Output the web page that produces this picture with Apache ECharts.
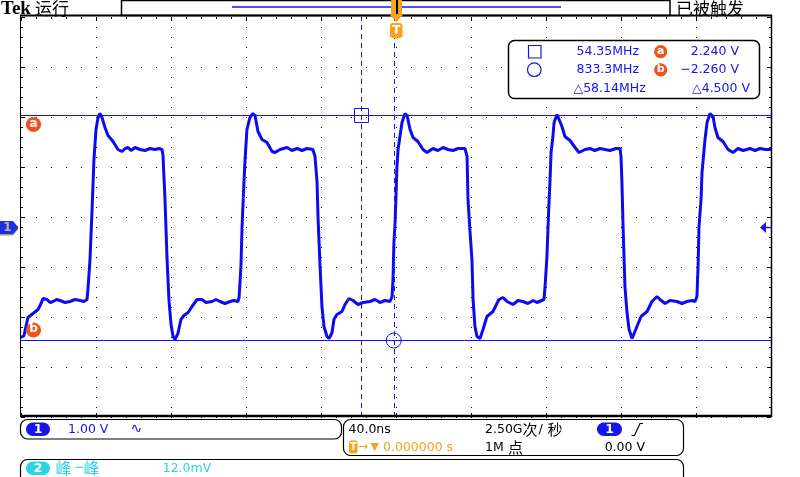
<!DOCTYPE html>
<html><head><meta charset="utf-8">
<script src="https://cdn.jsdelivr.net/npm/echarts@6/dist/echarts.min.js"></script>
<style>html,body{margin:0;padding:0;background:#fff}#c{width:800px;height:477px}</style>
</head><body><div id="c"></div>
<script>
// ---- Channel 1 trace (time in ns relative to trigger, volts) ----
const timeNs = [
-200.0,-198.4,-196.3,-193.6,-190.9,-189.3,-188.3,-186.1,-184.5,-182.9,-181.0,-179.2,-176.5,-173.9,-171.2,-168.5,-166.4,-164.8,
-164.3,-163.2,-162.1,-161.1,-160.0,-158.9,-157.9,-156.8,-155.2,-153.6,-150.9,-148.3,-146.1,-144.5,-142.9,-141.3,-139.2,-136.5,
-133.9,-131.2,-128.5,-126.4,-124.8,-124.3,-123.2,-122.1,-121.1,-120.0,-118.9,-117.9,-116.3,-114.7,-113.1,-110.9,-108.8,-106.1,
-103.5,-101.3,-98.1,-96.0,-93.9,-91.2,-88.5,-86.4,-84.3,-83.7,-82.7,-82.1,-81.1,-80.5,-79.5,-77.9,-76.3,-75.2,-73.6,-71.5,
-68.8,-66.1,-64.5,-61.9,-58.1,-55.5,-52.8,-50.1,-47.5,-44.3,-43.2,-42.1,-41.6,-40.5,-39.5,-38.4,-36.8,-35.7,-34.1,-33.1,
-31.5,-28.8,-27.2,-25.1,-22.9,-20.3,-17.6,-13.9,-11.2,-8.5,-5.9,-3.2,-2.1,-1.6,-1.1,-0.5,0.0,0.5,1.1,2.1,3.2,4.8,5.9,7.5,
9.1,11.7,14.4,16.5,19.7,22.4,25.1,27.7,30.4,33.1,36.8,37.9,38.4,39.5,40.5,41.1,42.1,43.2,44.8,46.4,48.5,51.7,54.9,57.1,
59.2,62.4,65.1,67.7,70.4,73.1,75.2,78.9,79.5,80.5,81.1,81.6,82.1,82.7,83.7,84.3,85.9,86.9,88.5,90.1,92.8,95.5,97.6,100.8,
103.5,106.1,108.8,111.5,114.1,117.3,119.5,120.0,120.5,121.1,121.6,122.1,123.2,124.3,125.9,126.9,128.5,130.7,133.9,136.5,
139.2,140.8,143.5,146.1,149.9,152.5,155.2,157.9,159.5,160.5,161.1,161.6,162.7,163.2,164.8,165.9,167.5,169.1,170.1,171.7,
174.4,177.1,179.7,182.4,185.1,188.8,191.5,194.1,197.3,200.0
];
const ch1Volts = [
-2.20,-2.16,-1.80,-1.72,-1.64,-1.52,-1.42,-1.44,-1.50,-1.48,-1.44,-1.46,-1.50,-1.48,-1.44,-1.46,-1.48,-1.44,
-1.24,-0.64,0.36,1.36,1.96,2.20,2.28,2.20,2.00,1.84,1.72,1.56,1.52,1.58,1.60,1.54,1.60,1.56,
1.54,1.58,1.56,1.58,1.56,1.46,0.56,-0.64,-1.44,-1.94,-2.18,-2.24,-2.12,-1.84,-1.76,-1.70,-1.58,-1.44,
-1.44,-1.50,-1.48,-1.44,-1.48,-1.52,-1.48,-1.46,-1.48,-1.40,-0.78,0.02,0.90,1.36,1.96,2.20,2.28,2.24,1.92,1.76,
1.70,1.52,1.50,1.56,1.60,1.54,1.58,1.54,1.58,1.56,1.42,0.90,0.22,-0.78,-1.58,-1.98,-2.18,-2.22,-2.10,-1.84,
-1.74,-1.68,-1.54,-1.42,-1.46,-1.54,-1.50,-1.48,-1.44,-1.50,-1.46,-1.48,-1.38,-1.04,-0.30,0.10,0.62,1.22,1.56,1.82,2.10,2.28,2.24,1.96,
1.80,1.72,1.56,1.50,1.58,1.54,1.60,1.56,1.54,1.58,1.58,1.42,0.56,-0.10,-0.64,-1.44,-1.98,-2.18,-2.22,-2.04,-1.78,-1.68,-1.44,-1.40,
-1.48,-1.54,-1.46,-1.48,-1.52,-1.46,-1.50,-1.44,-1.18,-0.58,0.02,0.50,0.90,1.50,1.82,2.10,2.26,2.26,2.02,1.82,1.74,1.60,1.50,1.56,
1.58,1.54,1.58,1.56,1.54,1.58,1.58,1.42,0.90,0.02,-0.58,-1.18,-1.70,-2.04,-2.22,-2.18,-1.98,-1.78,-1.68,-1.48,
-1.38,-1.44,-1.52,-1.46,-1.48,-1.52,-1.48,-1.46,-1.48,-1.38,-0.78,0.02,0.56,1.10,1.76,2.10,2.28,2.22,2.00,1.80,
1.72,1.56,1.50,1.58,1.54,1.58,1.54,1.58,1.56,1.56
];
// ---- Cursors ----
const cursorVolts = [2.24, -2.26];
const cursorTimeNs = [-18.4, -1.2];
const readoutFreq = ['54.35MHz', '833.3MHz', '△58.14MHz'];
const readoutVolt = ['2.240 V', '−2.260 V', '△4.500 V'];
// ---- Status texts ----
const topLeftText = ['Tek', '运行'];
const topRightText = '已被触发';
const ch1Scale = '1.00 V';
const timebase = '40.0ns';
const triggerPos = '0.000000 s';
const sampleRate = ['2.50G', '次', '/', '秒'];
const recordLen = ['1M', '点'];
const trigLevel = '0.00 V';
const measLabel = ['峰', '−', '峰'];
const measValue = '12.0mV';

const BLUE = '#1414ee', TRACE = '#0b0bf2', OR = '#f0521c', AMB = '#f5a31a', CY = '#2dd3e3';
const LAT = '"DejaVu Sans", "Noto Sans CJK SC", sans-serif';
const CJK = '"Noto Sans CJK SC", sans-serif';

function T(x, y, text, font, fill, align) {
  return {type: 'text', z: 110, silent: true, style: {x, y, text, font, fill,
    align: align || 'left', textAlign: align || 'left', verticalAlign: 'middle', textVerticalAlign: 'middle'}};
}
function R(x, y, w, h, r, fill, stroke, lw) {
  return {type: 'rect', z: 99, silent: true, shape: {x, y, width: w, height: h, r: r || 0},
    style: {fill: fill || 'none', stroke: stroke || 'none', lineWidth: lw || 1}};
}
function L(x1, y1, x2, y2, stroke, lw) {
  return {type: 'line', z: 99, silent: true, shape: {x1, y1, x2, y2}, style: {stroke, lineWidth: lw || 1}};
}
function C(cx, cy, r, fill, stroke, lw) {
  return {type: 'circle', z: 99, silent: true, shape: {cx, cy, r}, style: {fill: fill || 'none', stroke: stroke || 'none', lineWidth: lw || 1}};
}

const graphic = [
  T(1, 9, topLeftText[0], 'bold 19px "Liberation Serif", serif', '#000'),
  T(35, 9, topLeftText[1], '17px ' + CJK, '#000'),
  T(676, 9, topRightText, '17px ' + CJK, '#000'),
  R(121.5, 0.5, 548.5, 15, 0, '#fff', '#000', 1.5),
  L(232, 7, 561, 7, BLUE, 1.5),
  // frame
  L(20, 15.5, 772, 15.5, '#000', 2),
  L(20, 416, 772, 416, '#000', 2.5),
  L(20.5, 15, 20.5, 417, '#000', 1),
  L(771.5, 15, 771.5, 417, '#000', 1.5),
  // trigger position marker
  {type: 'polygon', z: 101, silent: true, shape: {points: [[391, 0], [402, 0], [402, 15], [403, 15], [396.5, 22], [390, 15], [391, 15]]}, style: {fill: AMB}},
  {type: 'line', z: 102, silent: true, shape: {x1: 397, y1: 0, x2: 397, y2: 14}, style: {stroke: '#000', lineWidth: 2}},
  {type: 'rect', z: 101, silent: true, shape: {x: 390, y: 23, width: 12.5, height: 15, r: 3}, style: {fill: AMB}},
  T(396.3, 30.8, 'T', 'bold 12px ' + LAT, '#fff', 'center'),
  // readout box
  R(508.5, 40.5, 251, 58, 6, '#fff', '#000', 1.5),
  {type: 'rect', z: 100, silent: true, shape: {x: 528.5, y: 45.5, width: 12.5, height: 12.5}, style: {fill: 'none', stroke: BLUE, lineWidth: 1.2}},
  {type: 'circle', z: 100, silent: true, shape: {cx: 534.3, cy: 69.7, r: 6.8}, style: {fill: 'none', stroke: BLUE, lineWidth: 1.2}},
  T(639, 52, readoutFreq[0], '12.5px ' + LAT, BLUE, 'right'),
  T(639, 70, readoutFreq[1], '12.5px ' + LAT, BLUE, 'right'),
  T(645.7, 88.5, readoutFreq[2], '12.5px ' + LAT, BLUE, 'right'),
  {type: 'circle', z: 100, silent: true, shape: {cx: 660.7, cy: 51.7, r: 6.6}, style: {fill: OR}},
  T(660.7, 51.2, 'a', 'bold 11px ' + LAT, '#fff', 'center'),
  {type: 'circle', z: 100, silent: true, shape: {cx: 660.7, cy: 69.8, r: 6.6}, style: {fill: OR}},
  T(660.7, 69.3, 'b', 'bold 11px ' + LAT, '#fff', 'center'),
  T(739, 52, readoutVolt[0], '12.5px ' + LAT, BLUE, 'right'),
  T(739, 70, readoutVolt[1], '12.5px ' + LAT, BLUE, 'right'),
  T(750, 88.5, readoutVolt[2], '12.5px ' + LAT, BLUE, 'right'),
  // cursor labels in plot
  C(33.5, 124.5, 7.6, OR), T(33.5, 123.8, 'a', 'bold 12px ' + LAT, '#fff', 'center'),
  C(33.5, 330, 7.6, OR), T(33.5, 329.3, 'b', 'bold 12px ' + LAT, '#fff', 'center'),
  // channel ground markers
  {type: 'polygon', z: 100, silent: true, shape: {points: [[0, 222.5], [13, 222.5], [18.5, 229], [13, 235.5], [0, 235.5]]}, style: {fill: '#9a9a9a'}},
  {type: 'polygon', z: 101, silent: true, shape: {points: [[0, 221], [13, 221], [18.5, 227.5], [13, 234], [0, 234]]}, style: {fill: '#1f2fe0'}},
  T(7.5, 228, '1', 'bold 12px ' + LAT, '#b8b8a8', 'center'),
  {type: 'polygon', z: 100, silent: true, shape: {points: [[760, 227.5], [766, 222], [766, 233]]}, style: {fill: BLUE}},
  L(765, 227.5, 771, 227.5, BLUE, 1.5),
  // bottom status box 1
  R(20.5, 419.5, 321, 19.5, 7, 'none', '#000', 1.2),
  {type: 'rect', z: 100, silent: true, shape: {x: 26, y: 422.5, width: 24, height: 13.5, r: 6.75}, style: {fill: BLUE}},
  T(38, 429.5, '1', 'bold 12.5px ' + LAT, '#fff', 'center'),
  T(68, 429.5, ch1Scale, '12.5px ' + LAT, BLUE),
  T(130.5, 429, '∿', '14px ' + LAT, BLUE),
  // box 2
  R(343.5, 419.5, 340, 36, 7, 'none', '#000', 1.2),
  T(348.5, 429.5, timebase, '12.5px ' + LAT, '#000'),
  {type: 'rect', z: 100, silent: true, shape: {x: 349, y: 440.5, width: 8.5, height: 13, r: 2}, style: {fill: AMB}},
  T(353.3, 447.2, 'T', 'bold 10px ' + LAT, '#fff', 'center'),
  T(358, 447, '→', '12px ' + LAT, AMB),
  T(370.5, 447, '▼', '11px ' + LAT, AMB),
  T(383, 447.5, triggerPos, '12.5px ' + LAT, AMB),
  T(485, 429.5, sampleRate[0], '12.5px ' + LAT, '#000'),
  T(522.5, 429.5, sampleRate[1], '15px ' + CJK, '#000'),
  T(538.5, 429.5, sampleRate[2], '13px ' + LAT, '#000'),
  T(547.5, 429.5, sampleRate[3], '15px ' + CJK, '#000'),
  {type: 'rect', z: 100, silent: true, shape: {x: 597, y: 422.5, width: 25, height: 13.5, r: 6.75}, style: {fill: BLUE}},
  T(609.5, 429.5, '1', 'bold 12.5px ' + LAT, '#fff', 'center'),
  {type: 'polyline', z: 100, silent: true, shape: {points: [[631.5, 435.5], [634.5, 435.5], [640, 423.5], [643, 423.5]]}, style: {stroke: '#000', lineWidth: 1.2, fill: 'none'}},
  T(485, 447.5, recordLen[0], '12.5px ' + LAT, '#000'),
  T(508, 447.5, recordLen[1], '15px ' + CJK, '#000'),
  T(645, 447.5, trigLevel, '12.5px ' + LAT, '#000', 'right'),
  // box 3
  R(20.5, 459.5, 663, 30, 7, 'none', '#000', 1.2),
  {type: 'rect', z: 100, silent: true, shape: {x: 26, y: 461.5, width: 24, height: 13.5, r: 6.75}, style: {fill: CY}},
  T(38, 468.3, '2', 'bold 12.5px ' + LAT, '#fff', 'center'),
  T(55.5, 468, measLabel[0], '16px ' + CJK, CY),
  T(74, 468, measLabel[1], '12.5px ' + LAT, CY),
  T(83.5, 468, measLabel[2], '16px ' + CJK, CY),
  T(162.7, 468.5, measValue, '12.5px ' + LAT, CY)
];

const tickX = {show: true, inside: true, length: 4, lineStyle: {color: '#000', width: 1}};
const minorX = {show: true, splitNumber: 5, length: 2, lineStyle: {color: '#000', width: 1}};
const hidden = {show: false};

const option = {
  animation: false,
  backgroundColor: '#fff',
  grid: {left: 21, top: 17, width: 750, height: 400, show: false},
  xAxis: [
    {type: 'value', min: -200, max: 200, interval: 40, position: 'bottom',
      axisLine: {show: false, onZero: false}, axisLabel: hidden, axisTick: tickX, minorTick: minorX,
      splitLine: {show: true, lineStyle: {color: '#000', width: 1, type: [1, 9]}}},
    {type: 'value', min: -200, max: 200, interval: 40, position: 'top',
      axisLine: {show: false, onZero: false}, axisLabel: hidden, axisTick: tickX, minorTick: minorX, splitLine: hidden}
  ],
  yAxis: [
    {type: 'value', min: -3.79, max: 4.21, show: false, axisLine: {onZero: false}, splitLine: hidden},
    {type: 'value', min: -4, max: 4, interval: 1, position: 'left',
      axisLine: {show: false, onZero: false}, axisLabel: hidden, axisTick: tickX, minorTick: minorX,
      splitLine: {show: true, lineStyle: {color: '#000', width: 1, type: [1, 14]}}},
    {type: 'value', min: -4, max: 4, interval: 1, position: 'right',
      axisLine: {show: false, onZero: false}, axisLabel: hidden, axisTick: tickX, minorTick: minorX, splitLine: hidden}
  ],
  series: [{
    type: 'line', xAxisIndex: 0, yAxisIndex: 0, z: 3,
    data: timeNs.map((t, i) => [t, ch1Volts[i]]),
    showSymbol: false, symbol: 'none', clip: true,
    lineStyle: {color: TRACE, width: 3},
    markLine: {silent: true, symbol: ['none', 'none'], label: {show: false}, animation: false,
      lineStyle: {color: BLUE, width: 1, type: 'solid'},
      emphasis: {disabled: true},
      data: [
        {yAxis: cursorVolts[0]}, {yAxis: cursorVolts[1]},
        {xAxis: cursorTimeNs[0], lineStyle: {type: [5, 4], color: BLUE, width: 1}},
        {xAxis: cursorTimeNs[1], lineStyle: {type: [5, 4], color: BLUE, width: 1}}
      ]},
    markPoint: {silent: true, animation: false, label: {show: false},
      itemStyle: {color: 'rgba(0,0,0,0)', borderColor: BLUE, borderWidth: 1},
      data: [
        {coord: [cursorTimeNs[0], cursorVolts[0]], symbol: 'rect', symbolSize: 14},
        {coord: [cursorTimeNs[1], cursorVolts[1]], symbol: 'circle', symbolSize: 15}
      ]}
  }],
  graphic: graphic
};
const chart = echarts.init(document.getElementById('c'), null, {renderer: 'canvas'});
chart.setOption(option);
</script></body></html>
